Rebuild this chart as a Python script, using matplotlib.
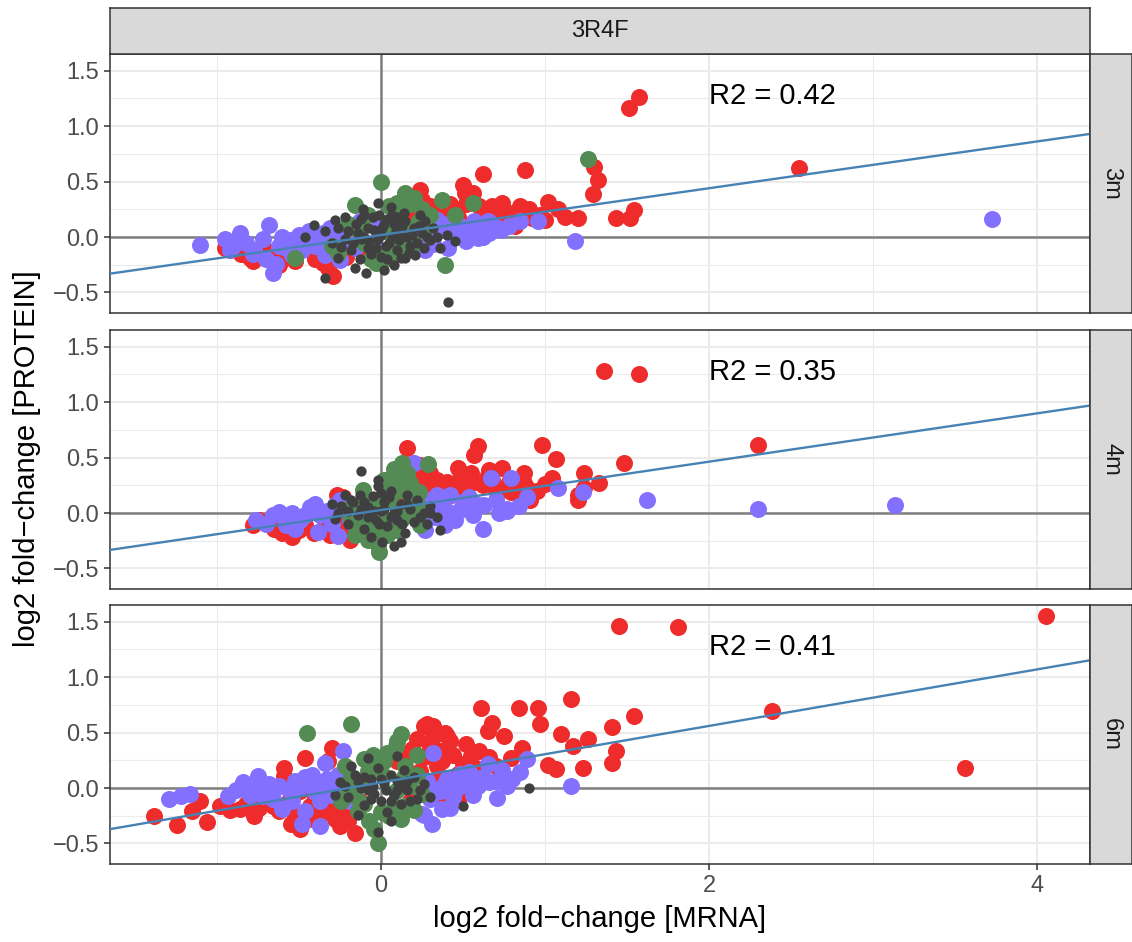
import matplotlib
matplotlib.use("Agg")
import numpy as np
import matplotlib.pyplot as plt
from matplotlib.ticker import FixedLocator

plt.rcParams['font.family'] = ['Liberation Sans', 'DejaVu Sans']

# facet labels
col_label = "3R4F"
row_labels = ["3m", "4m", "6m"]
r2_labels = ["R2 = 0.42", "R2 = 0.35", "R2 = 0.41"]

# fitted lines
fit_slope = [0.211, 0.218, 0.255]
fit_intercept = [0.018, 0.027, 0.05]

# ---- 3m ----
red_3m = [(-0.95, -0.10), (-0.92, -0.12), (-0.88, -0.05), (-0.85, -0.15), (-0.80, -0.19), (-0.78, -0.22),
          (-0.72, -0.08), (-0.66, -0.18), (-0.62, -0.25), (-0.60, -0.18), (-0.55, -0.18), (-0.48, -0.08),
          (-0.43, -0.12), (-0.40, -0.20), (-0.35, -0.23), (-0.32, -0.28), (-0.29, -0.35), (-0.25, -0.19),
          (-0.21, -0.18), (-0.15, -0.10), (-0.05, -0.05), (0.08, 0.05), (0.12, 0.18), (0.15, 0.28),
          (0.20, 0.10), (0.24, 0.42), (0.25, 0.33), (0.28, 0.15), (0.32, 0.22), (0.38, 0.10), (0.40, 0.22),
          (0.42, 0.30), (0.47, 0.18), (0.50, 0.47), (0.51, 0.40), (0.55, 0.12), (0.56, 0.40), (0.58, 0.08),
          (0.60, 0.28), (0.62, 0.57), (0.66, 0.20), (0.70, 0.15), (0.74, 0.31), (0.78, 0.22), (0.80, 0.13),
          (0.82, 0.10), (0.85, 0.28), (0.88, 0.60), (0.92, 0.17), (0.97, 0.20), (1.02, 0.32), (1.08, 0.25),
          (1.12, 0.18), (1.20, 0.17), (1.29, 0.39), (1.30, 0.63), (1.32, 0.51), (1.43, 0.17), (1.52, 0.17),
          (1.54, 0.24), (1.51, 1.16), (1.57, 1.26), (2.55, 0.62),
          (0.30, 0.28), (0.35, 0.18), (0.45, 0.25), (0.52, 0.30), (0.62, 0.22), (0.68, 0.28), (0.72, 0.20),
          (0.90, 0.25), (1.00, 0.15), (0.44, 0.14), (0.20, 0.22), (-0.70, -0.18), (-0.52, -0.22),
          (-0.38, -0.15), (-0.10, -0.15)]
purple_3m = [(-1.10, -0.07), (-0.92, -0.12), (-0.86, 0.04), (-0.77, -0.12), (-0.68, 0.11), (-0.66, -0.32),
             (-0.62, -0.08), (-0.55, -0.03), (-0.54, -0.16), (-0.50, 0.02), (-0.46, 0.02), (-0.42, -0.05),
             (-0.37, -0.01), (-0.34, -0.16), (-0.31, -0.12), (-0.31, 0.08), (-0.25, -0.21), (-0.22, -0.07),
             (-0.13, 0.14), (-0.04, -0.07), (-0.01, 0.11), (0.18, 0.06), (0.24, -0.03), (0.27, -0.12),
             (0.34, 0.15), (0.36, 0.06), (0.41, -0.10), (0.45, 0.08), (0.50, 0.02), (0.54, 0.05),
             (0.57, 0.14), (0.59, -0.01), (0.62, 0.00), (0.65, 0.14), (0.70, 0.09), (0.73, 0.06),
             (0.85, 0.14), (0.96, 0.14), (1.18, -0.04), (3.72, 0.16),
             (-0.95, -0.02), (-0.90, -0.08), (-0.82, -0.05), (-0.78, -0.15), (-0.72, -0.02), (-0.70, -0.20),
             (-0.64, -0.24), (-0.60, 0.00), (-0.58, -0.10), (-0.52, -0.06), (-0.48, -0.12), (-0.44, 0.05),
             (-0.40, -0.08), (-0.35, 0.04), (-0.28, -0.04), (-0.26, 0.06), (-0.18, 0.02), (-0.16, -0.10),
             (0.30, 0.02), (0.38, 0.12), (0.42, 0.04), (0.48, 0.10), (0.52, -0.04), (0.60, 0.08),
             (0.66, 0.04), (0.78, 0.10), (0.22, 0.10), (0.32, -0.06)]
green_3m = [(0.00, 0.50), (0.15, 0.40), (0.10, 0.31), (0.12, 0.26), (0.37, 0.33), (0.56, 0.31), (0.39, -0.25),
            (-0.16, 0.29), (-0.18, 0.08), (-0.26, -0.14), (-0.52, -0.19), (0.05, -0.19), (-0.03, -0.23),
            (-0.05, -0.12), (0.16, 0.06), (0.23, 0.14), (0.30, 0.20), (0.08, -0.15), (-0.08, 0.20),
            (0.20, 0.35), (-0.10, -0.05), (0.02, 0.05), (1.26, 0.70),
            (-0.20, 0.12), (-0.12, 0.10), (0.05, 0.28), (0.18, 0.30), (0.25, 0.25), (0.12, -0.08),
            (0.02, -0.15), (-0.06, -0.20), (0.20, -0.05), (0.28, 0.10), (-0.30, -0.08), (0.45, 0.20)]
dark_3m = [(-0.41, 0.11), (-0.34, 0.05), (-0.28, 0.15), (-0.24, -0.09), (-0.26, -0.19), (-0.34, -0.37),
           (-0.09, -0.32), (0.41, -0.59), (-0.02, 0.31), (-0.11, 0.25), (0.24, 0.20), (0.27, 0.14),
           (0.30, -0.03), (0.36, -0.10), (0.12, -0.19), (0.15, -0.19), (-0.20, 0.05), (-0.15, 0.12),
           (-0.12, -0.02), (-0.08, 0.08), (-0.05, 0.18), (-0.03, -0.10), (0.00, 0.02), (0.02, 0.12),
           (0.05, -0.05), (0.07, 0.20), (0.09, 0.05), (0.10, -0.12), (0.13, 0.10), (0.16, 0.00),
           (0.18, -0.08), (0.20, 0.08), (-0.18, -0.12), (-0.13, -0.20), (-0.06, -0.15), (0.04, -0.20),
           (0.22, -0.05), (0.25, 0.04), (0.32, 0.08), (-0.22, 0.18), (-0.10, 0.20), (0.06, 0.27),
           (-0.30, -0.05), (0.40, 0.02), (0.45, -0.04), (-0.46, 0.00), (0.14, 0.22), (-0.01, 0.20),
           (0.08, -0.25), (-0.16, -0.28),
           (-0.22, -0.02), (-0.17, -0.05), (-0.14, 0.04), (-0.10, 0.00), (-0.07, -0.04), (-0.04, 0.06),
           (-0.02, -0.02), (0.01, 0.08), (0.03, -0.08), (0.04, 0.16), (0.07, 0.00), (0.08, 0.12),
           (0.11, -0.03), (0.12, 0.05), (0.15, 0.14), (0.17, -0.14), (0.19, 0.02), (0.23, 0.10),
           (0.26, -0.10), (0.28, 0.00), (-0.08, -0.10), (0.00, -0.18), (-0.12, 0.16), (0.10, 0.18),
           (0.34, 0.00), (-0.26, 0.08), (0.02, -0.30), (0.21, -0.16)]

# ---- 4m ----
red_4m = [(-0.78, -0.11), (-0.74, -0.06), (-0.65, -0.14), (-0.54, -0.22), (-0.46, -0.11), (-0.41, -0.18),
          (-0.36, 0.01), (-0.31, -0.20), (-0.27, 0.16), (-0.24, -0.14), (-0.23, 0.14), (-0.19, -0.24),
          (0.09, 0.16), (0.12, 0.23), (0.15, 0.32), (0.16, 0.59), (0.21, 0.32), (0.24, 0.43), (0.30, 0.36),
          (0.34, 0.30), (0.36, 0.21), (0.43, 0.16), (0.47, 0.41), (0.49, 0.34), (0.57, 0.52), (0.57, 0.28),
          (0.59, 0.60), (0.65, 0.34), (0.66, 0.39), (0.70, 0.21), (0.73, 0.21), (0.74, 0.41), (0.79, 0.19),
          (0.85, 0.14), (0.87, 0.27), (0.87, 0.36), (0.88, 0.18), (0.89, 0.23), (0.91, 0.12), (0.98, 0.61),
          (1.04, 0.32), (1.07, 0.49), (1.20, 0.16), (1.20, 0.12), (1.24, 0.23), (1.24, 0.36), (1.33, 0.27),
          (1.48, 0.45), (1.36, 1.28), (1.57, 1.25), (2.30, 0.61),
          (0.18, 0.25), (0.26, 0.28), (0.32, 0.24), (0.40, 0.28), (0.45, 0.22), (0.52, 0.26), (0.55, 0.36),
          (0.62, 0.25), (0.68, 0.30), (0.78, 0.28), (0.82, 0.22), (0.95, 0.20), (1.00, 0.26),
          (-0.60, -0.18), (-0.50, -0.15), (-0.35, -0.14), (-0.28, -0.08), (0.28, 0.18)]
purple_4m = [(-0.76, -0.06), (-0.62, 0.01), (-0.58, -0.11), (-0.49, -0.06), (-0.43, 0.05), (-0.38, -0.17),
             (-0.37, -0.02), (-0.28, 0.07), (-0.26, -0.21), (-0.25, 0.12), (-0.19, -0.06), (-0.13, 0.01),
             (0.20, 0.45), (0.24, -0.02), (0.27, -0.15), (0.30, 0.12), (0.36, 0.07), (0.39, -0.11),
             (0.42, 0.16), (0.45, -0.06), (0.48, 0.03), (0.54, 0.14), (0.62, -0.14), (0.63, 0.07),
             (0.67, 0.32), (0.77, 0.02), (0.77, 0.04), (0.79, 0.32), (0.89, 0.14), (1.08, 0.23),
             (1.23, 0.19), (1.62, 0.12), (2.30, 0.04), (3.13, 0.07),
             (-0.70, -0.10), (-0.66, -0.02), (-0.54, 0.00), (-0.52, -0.14), (-0.46, -0.02), (-0.40, 0.08),
             (-0.33, 0.02), (-0.30, -0.10), (-0.22, 0.04), (-0.16, -0.12), (0.22, 0.08), (0.28, 0.04),
             (0.33, -0.04), (0.40, 0.02), (0.50, 0.10), (0.56, -0.02), (0.58, 0.08), (0.70, 0.12),
             (0.72, 0.00), (0.84, 0.06), (0.34, 0.16)]
green_4m = [(0.13, 0.45), (0.29, 0.44), (0.08, 0.34), (0.12, 0.21), (0.18, 0.27), (0.23, 0.19), (0.02, 0.18),
            (-0.11, 0.21), (-0.13, 0.07), (-0.18, -0.06), (-0.16, -0.20), (-0.08, -0.24), (-0.02, -0.29),
            (-0.01, -0.35), (-0.07, -0.11), (0.05, -0.06), (0.09, -0.15), (0.15, 0.03), (0.19, 0.12),
            (-0.22, 0.03), (0.24, -0.11), (0.05, 0.28),
            (0.02, 0.30), (0.10, 0.26), (0.16, 0.36), (0.20, 0.20), (0.06, 0.10), (-0.04, 0.12),
            (0.12, -0.06), (0.04, -0.20), (-0.10, -0.18), (-0.14, -0.10), (0.18, -0.02), (0.22, 0.08),
            (-0.04, -0.16), (0.08, 0.40)]
dark_4m = [(-0.12, 0.38), (-0.02, 0.30), (-0.13, 0.16), (0.36, -0.15), (-0.28, -0.05), (-0.24, 0.06),
           (-0.20, -0.10), (-0.17, 0.10), (-0.14, -0.02), (-0.10, -0.14), (-0.08, 0.05), (-0.05, 0.15),
           (-0.03, -0.06), (0.00, 0.02), (0.02, 0.10), (0.04, -0.12), (0.06, 0.20), (0.08, 0.00),
           (0.10, -0.06), (0.12, 0.08), (0.15, -0.18), (0.18, 0.04), (0.20, -0.08), (0.22, 0.12),
           (0.26, 0.00), (0.30, 0.06), (-0.22, 0.16), (-0.06, -0.22), (0.01, -0.26), (0.12, -0.26),
           (-0.30, 0.08), (0.34, -0.04), (0.16, 0.16), (-0.02, 0.24), (0.08, -0.30),
           (-0.26, 0.00), (-0.20, 0.02), (-0.18, 0.12), (-0.12, 0.04), (-0.08, -0.04), (-0.04, 0.02),
           (-0.01, -0.10), (0.02, 0.04), (0.05, 0.14), (0.06, -0.04), (0.10, 0.02), (0.13, -0.10),
           (0.16, 0.08), (0.24, -0.04), (0.28, -0.10), (0.30, 0.00), (-0.10, 0.10), (0.00, 0.18)]

# ---- 6m ----
red_6m = [(-1.38, -0.25), (-1.24, -0.33), (-1.15, -0.21), (-1.10, -0.12), (-1.06, -0.31), (-0.98, -0.16),
          (-0.86, -0.19), (-0.80, -0.03), (-0.77, -0.25), (-0.71, -0.12), (-0.62, -0.21), (-0.59, 0.18),
          (-0.59, 0.11), (-0.55, -0.32), (-0.49, -0.37), (-0.49, -0.03), (-0.46, 0.27), (-0.43, -0.16),
          (-0.38, -0.27), (-0.37, -0.25), (-0.32, 0.24), (-0.31, -0.07), (-0.31, -0.21), (-0.30, 0.36),
          (-0.25, -0.34), (-0.25, -0.03), (-0.19, 0.06), (-0.16, -0.41), (-0.13, -0.12), (0.10, 0.24),
          (0.18, 0.11), (0.18, -0.12), (0.19, 0.35), (0.24, 0.15), (0.26, 0.56), (0.28, 0.58), (0.30, 0.38),
          (0.32, 0.56), (0.36, 0.33), (0.36, 0.11), (0.37, 0.24), (0.37, -0.12), (0.39, 0.50), (0.40, 0.47),
          (0.42, 0.42), (0.47, 0.13), (0.48, -0.07), (0.55, 0.29), (0.60, 0.33), (0.61, 0.72), (0.65, 0.51),
          (0.68, 0.59), (0.74, 0.14), (0.75, 0.47), (0.79, 0.27), (0.84, 0.72), (0.86, 0.36), (0.96, 0.72),
          (0.97, 0.58), (1.02, 0.21), (1.07, 0.17), (1.10, 0.49), (1.16, 0.80), (1.17, 0.38), (1.23, 0.18),
          (1.26, 0.44), (1.41, 0.55), (1.41, 0.23), (1.43, 0.33), (1.54, 0.65), (1.45, 1.46), (1.81, 1.45),
          (2.38, 0.69), (3.56, 0.18), (4.05, 1.55),
          (-0.92, -0.20), (-0.82, -0.14), (-0.74, -0.18), (-0.66, -0.16), (-0.56, -0.12), (-0.52, -0.24),
          (-0.44, -0.28), (-0.40, -0.08), (-0.34, -0.14), (-0.28, -0.28), (-0.22, -0.18), (-0.20, -0.30),
          (0.14, 0.30), (0.22, 0.44), (0.26, 0.28), (0.32, 0.46), (0.34, 0.20), (0.44, 0.30),
          (0.50, 0.22), (0.52, 0.40), (0.58, 0.18), (0.66, 0.28), (0.70, 0.20), (0.46, 0.06)]
purple_6m = [(-1.29, -0.10), (-1.22, -0.07), (-1.16, -0.05), (-0.93, -0.07), (-0.84, 0.05), (-0.75, 0.11),
             (-0.75, 0.02), (-0.72, -0.07), (-0.62, 0.02), (-0.60, -0.19), (-0.52, 0.06), (-0.48, -0.32),
             (-0.46, -0.21), (-0.43, 0.06), (-0.37, 0.04), (-0.37, -0.12), (-0.37, -0.34), (-0.34, 0.23),
             (-0.28, 0.02), (-0.23, 0.33), (-0.22, 0.08), (-0.19, -0.12), (-0.18, -0.03), (0.25, -0.23),
             (0.26, -0.24), (0.31, -0.32), (0.32, 0.32), (0.34, -0.03), (0.36, -0.03), (0.37, -0.19),
             (0.42, -0.18), (0.46, -0.01), (0.48, 0.02), (0.48, 0.13), (0.54, 0.14), (0.59, 0.02),
             (0.65, 0.22), (0.66, 0.05), (0.71, -0.09), (0.77, 0.02), (0.85, 0.14), (0.89, 0.26),
             (1.16, 0.02),
             (-0.88, -0.02), (-0.80, -0.06), (-0.68, 0.04), (-0.66, -0.10), (-0.56, -0.02), (-0.50, 0.00),
             (-0.46, 0.10), (-0.40, -0.04), (-0.33, 0.08), (-0.30, -0.06), (-0.26, 0.12), (-0.24, -0.08),
             (-0.16, 0.04), (-0.42, 0.12), (0.28, 0.06), (0.30, -0.10), (0.40, 0.08), (0.44, -0.08),
             (0.52, 0.04), (0.56, -0.06), (0.62, 0.10), (0.70, 0.06), (0.74, 0.16), (0.80, 0.08),
             (0.38, 0.02), (-0.54, -0.12)]
green_6m = [(-0.45, 0.50), (-0.18, 0.58), (-0.02, -0.50), (0.12, 0.49), (0.09, 0.38), (0.02, 0.24),
            (-0.08, 0.15), (-0.13, 0.06), (-0.16, -0.07), (-0.14, -0.21), (-0.07, -0.30), (-0.04, -0.37),
            (0.05, -0.25), (0.12, -0.28), (0.15, -0.16), (0.18, 0.02), (0.15, 0.20), (0.09, -0.03),
            (0.02, 0.11), (-0.22, 0.20), (0.22, 0.30), (-0.05, 0.30), (0.25, -0.05),
            (-0.20, -0.02), (-0.18, 0.10), (-0.10, -0.14), (-0.02, 0.20), (0.04, 0.32), (0.08, -0.16),
            (0.14, 0.10), (0.20, -0.20), (0.22, 0.12), (0.10, 0.42), (-0.10, 0.26), (-0.24, -0.12),
            (0.00, -0.22)]
dark_6m = [(0.50, -0.16), (0.90, 0.00), (-0.02, -0.40), (-0.08, 0.27), (0.10, 0.29), (-0.25, 0.05),
           (-0.20, -0.08), (-0.16, 0.12), (-0.12, 0.00), (-0.10, -0.15), (-0.06, 0.08), (-0.04, -0.05),
           (-0.02, 0.18), (0.00, -0.12), (0.02, 0.04), (0.04, -0.22), (0.06, 0.12), (0.08, -0.06),
           (0.10, 0.06), (0.12, -0.14), (0.14, 0.16), (0.16, -0.02), (0.20, 0.10), (0.22, -0.10),
           (0.26, 0.04), (-0.18, 0.20), (-0.14, -0.24), (0.06, -0.30), (0.30, -0.08), (-0.28, -0.06),
           (-0.22, 0.02), (-0.14, 0.06), (-0.08, -0.02), (-0.05, 0.02), (0.00, 0.08), (0.03, -0.02),
           (0.06, -0.12), (0.10, -0.02), (0.12, 0.02), (0.16, 0.06), (-0.06, -0.10), (-0.10, 0.10),
           (0.18, -0.12), (0.24, -0.02)]

red_pts = [red_3m, red_4m, red_6m]
purple_pts = [purple_3m, purple_4m, purple_6m]
green_pts = [green_3m, green_4m, green_6m]
dark_pts = [dark_3m, dark_4m, dark_6m]

x_ticks = [0, 2, 4]
x_minor = [-1, 1, 3]
y_ticks = [-0.5, 0.0, 0.5, 1.0, 1.5]
y_minor = [-0.25, 0.25, 0.75, 1.25]
xlim = (-1.65, 4.32)
ylim = (-0.685, 1.65)

RED, PURPLE, GREEN, DARK = "#EE2C2C", "#8470FF", "#548B54", "#404040"
BORDER = "#333333"
STRIP = "#D9D9D9"

W, H = 1132, 942
fig = plt.figure(figsize=(W / 100, H / 100), dpi=100)

left, right = 110, 1090
tops = [54, 330, 605]
ph = 259


def fx(px):
    return px / W


def fy(py):
    return 1 - py / H


for i in range(3):
    ax = fig.add_axes([fx(left), fy(tops[i] + ph), fx(right - left), ph / H])
    ax.set_xlim(xlim)
    ax.set_ylim(ylim)
    ax.xaxis.set_major_locator(FixedLocator(x_ticks))
    ax.xaxis.set_minor_locator(FixedLocator(x_minor))
    ax.yaxis.set_major_locator(FixedLocator(y_ticks))
    ax.yaxis.set_minor_locator(FixedLocator(y_minor))
    ax.grid(which='major', color='#EBEBEB', lw=1.5, zorder=0)
    ax.grid(which='minor', color='#EBEBEB', lw=0.8, zorder=0)
    ax.set_axisbelow(True)
    ax.axhline(0, color='#7F7F7F', lw=1.8, zorder=1)
    ax.axvline(0, color='#7F7F7F', lw=1.8, zorder=1)

    for pts, c, s in [(red_pts[i], RED, 150), (purple_pts[i], PURPLE, 150),
                      (green_pts[i], GREEN, 150), (dark_pts[i], DARK, 55)]:
        arr = np.array(pts)
        ax.scatter(arr[:, 0], arr[:, 1], s=s, color=c, linewidths=0, zorder=2)

    ax.axline((0, fit_intercept[i]), slope=fit_slope[i], color='#4682B4', lw=1.7, zorder=3)
    ax.text(2.0, 1.27, r2_labels[i], ha='left', va='center', fontsize=21, color='black')

    for sp in ax.spines.values():
        sp.set_color(BORDER)
        sp.set_linewidth(1.1)
    ax.tick_params(which='major', length=4.5, width=1.1, color=BORDER,
                   labelcolor='#4D4D4D', labelsize=17)
    ax.tick_params(which='minor', length=0)
    ax.set_yticklabels([f"{v:.1f}".replace('-', '\u2212') for v in y_ticks])
    if i < 2:
        ax.tick_params(axis='x', which='major', length=0, labelbottom=False)
    else:
        ax.set_xticklabels([str(v) for v in x_ticks])
        ax.set_xlabel("log2 fold\u2212change [MRNA]", fontsize=21, color='black', labelpad=6)

    # right strip
    sx = fig.add_axes([fx(right), fy(tops[i] + ph), fx(W - right), ph / H])
    sx.set_facecolor(STRIP)
    sx.set_xticks([])
    sx.set_yticks([])
    for sp in sx.spines.values():
        sp.set_color(BORDER)
        sp.set_linewidth(1.1)
    sx.text(0.5, 0.5, row_labels[i], rotation=-90, ha='center', va='center',
            fontsize=17, color='#1A1A1A', transform=sx.transAxes)

# top strip
tx = fig.add_axes([fx(left), fy(54), fx(right - left), 46 / H])
tx.set_facecolor(STRIP)
tx.set_xticks([])
tx.set_yticks([])
for sp in tx.spines.values():
    sp.set_color(BORDER)
    sp.set_linewidth(1.1)
tx.text(0.5, 0.5, col_label, ha='center', va='center', fontsize=17, color='#1A1A1A',
        transform=tx.transAxes)

fig.text(fx(27), fy((54 + 864) / 2), "log2 fold\u2212change [PROTEIN]", rotation=90,
         ha='center', va='center', fontsize=21, color='black')

fig.savefig("out.png", dpi=100)
